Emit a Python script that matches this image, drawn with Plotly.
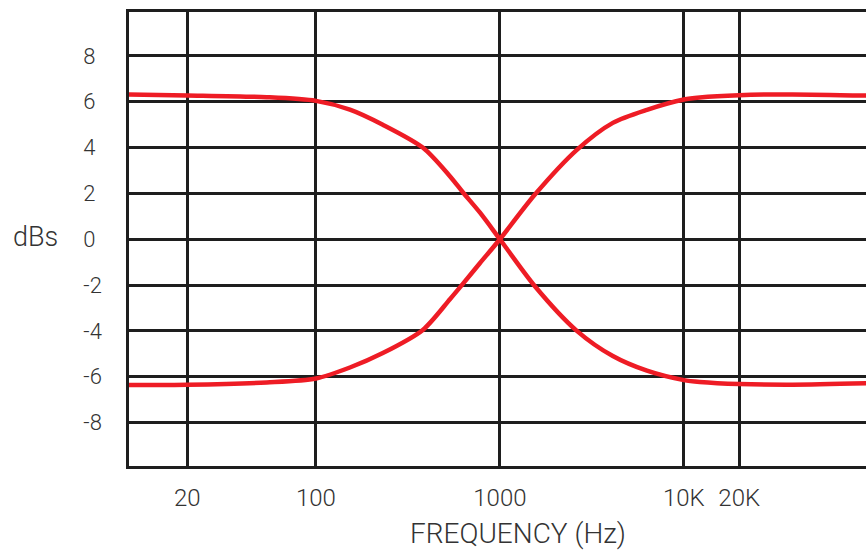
import plotly.graph_objects as go

# ---- data ----
freq_hz = [9.6, 20, 54, 100, 153, 231, 381, 535, 629, 778, 1000,
           1550, 2620, 4110, 6300, 10000, 12200, 20000, 39000, 98000]
low_boost_db = [6.32, 6.28, 6.2, 6.04, 5.66, 5.0, 4.0, 2.75, 2.05, 1.17, 0,
                -2.05, -4.0, -5.1, -5.74, -6.15, -6.23, -6.32, -6.35, -6.29]
high_boost_db = [-6.36, -6.35, -6.25, -6.08, -5.6, -4.97, -3.96, -2.62, -1.95, -1.05, 0,
                 1.95, 3.9, 5.08, 5.65, 6.1, 6.19, 6.29, 6.32, 6.27]

x_tick_vals = [20, 100, 1000, 10000, 20000]
x_tick_text = ["20", "100", "1000", "10K", "20K"]
y_tick_vals = [-8, -6, -4, -2, 0, 2, 4, 6, 8]

RED = "#EE1C25"
GRID = "#1E1E1E"
TXT = "#333333"
FONT = "Roboto"

# pad positive labels with an invisible minus so labels line up on the left
pad = "<span style='color:rgba(0,0,0,0)'>-</span>"
y_tick_text = [(str(v) if v < 0 else str(v) + pad) for v in y_tick_vals]

fig = go.Figure()
for ys in (low_boost_db, high_boost_db):
    fig.add_trace(go.Scatter(
        x=freq_hz, y=ys, mode="lines",
        line=dict(color=RED, width=4.5, shape="spline", smoothing=0.8),
        hoverinfo="skip", showlegend=False,
    ))

fig.update_layout(
    width=866, height=551,
    margin=dict(l=129, r=0, t=12, b=85),
    paper_bgcolor="white", plot_bgcolor="white",
    font=dict(family=FONT, color=TXT, weight=300),
    showlegend=False,
)

fig.update_xaxes(
    type="log", range=[0.984, 4.99],
    tickvals=x_tick_vals, ticktext=x_tick_text,
    tickfont=dict(size=24, color=TXT, family=FONT, weight=300),
    showgrid=True, gridcolor=GRID, gridwidth=2.5,
    showline=True, linecolor=GRID, linewidth=2.5, mirror=True,
    ticks="", ticklabelstandoff=8,
    zeroline=False,
)
fig.update_yaxes(
    range=[-9.9, 9.92],
    tickvals=y_tick_vals, ticktext=y_tick_text,
    tickfont=dict(size=22, color=TXT, family=FONT, weight=300),
    showgrid=True, gridcolor=GRID, gridwidth=2.5,
    showline=True, linecolor=GRID, linewidth=2.5, mirror=False,
    ticks="", ticklabelstandoff=20,
    zeroline=False,
)

fig.add_annotation(text="dBs", xref="paper", yref="paper",
                   x=(35 - 129) / 737, y=(466 - 237) / 454,
                   xanchor="center", yanchor="middle", showarrow=False,
                   font=dict(size=27, color=TXT, family=FONT, weight=300))
fig.add_annotation(text="FREQUENCY (Hz)", xref="paper", yref="paper",
                   x=(518 - 129) / 737, y=(466 - 533) / 454,
                   xanchor="center", yanchor="middle", showarrow=False,
                   font=dict(size=28, color=TXT, family=FONT, weight=300))

fig.write_html(
    "out.html",
    config={"displayModeBar": False},
    post_script="document.body.style.margin='0';document.body.style.overflow='hidden';",
)
